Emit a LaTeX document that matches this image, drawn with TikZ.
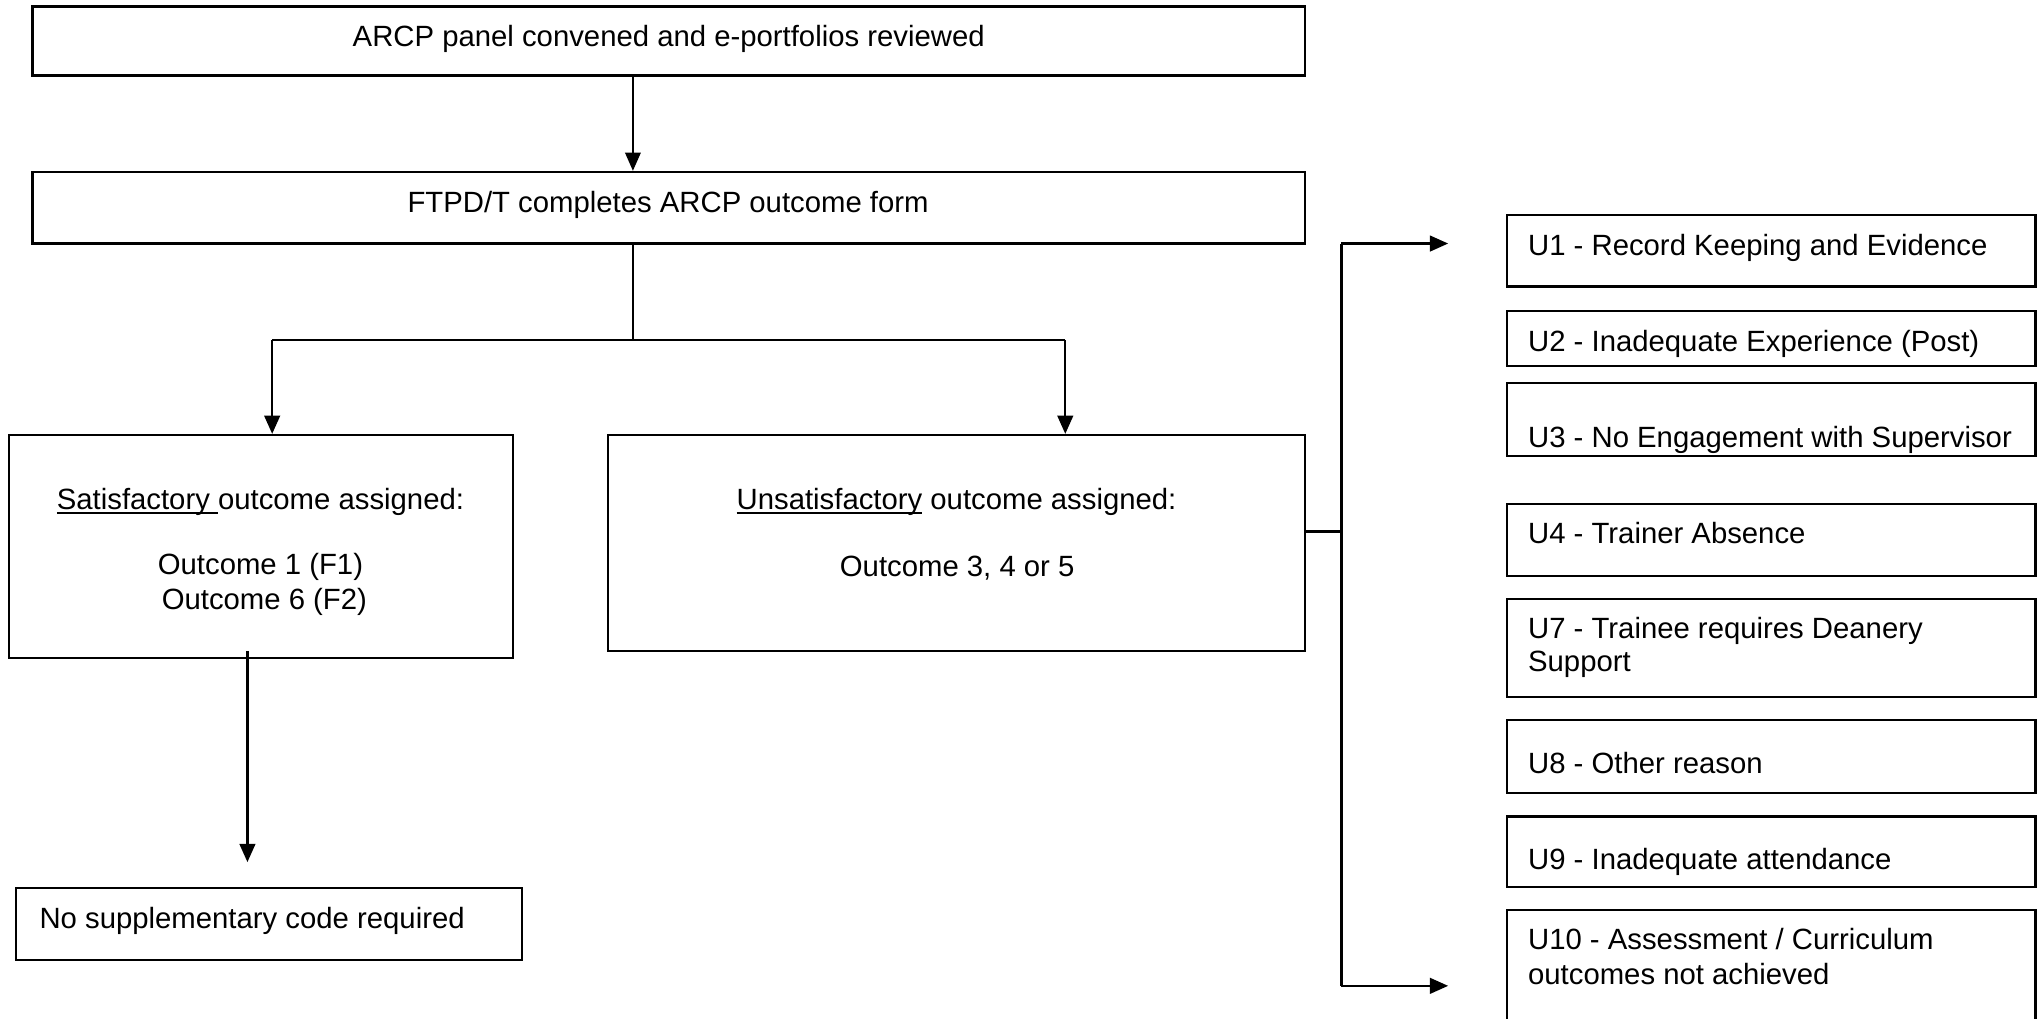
\documentclass[tikz,border=0pt]{standalone}
\usepackage{fontspec}
\setmainfont{Liberation Sans}
\usetikzlibrary{arrows.meta,fit}
\newcommand\myul[1]{\setbox0\hbox{#1}\rlap{\rule[-1.9pt]{\wd0}{0.7pt}}\box0\relax}
\begin{document}
\begin{tikzpicture}[x=0.5pt,y=-0.5pt,
  box/.style={draw, line width=0.85pt, inner sep=0pt, rectangle},
  txt/.style={inner sep=0pt, anchor=base, font=\fontsize{11.25}{13.5}\selectfont},
  ltxt/.style={txt, anchor=base west},
  conn/.style={line width=0.9pt},
  arr/.style={line width=0.9pt, -{Triangle[length=7pt,width=6pt]}}]
\useasboundingbox (0,0) rectangle (1568,782);

% main boxes
\node[box, fit={(25,5) (1002,58)}] (top) {};
\node[txt] (toptxt) at (513.5,36) {ARCP panel convened and e-portfolios reviewed};
\node[box, fit={(25,132) (1002,187)}] (ftpd) {};
\node[txt] (ftpdtxt) at (513,163) {FTPD/T completes ARCP outcome form};

\node[box, fit={(7,334) (394,505)}] (sat) {};
\node[txt] (sat1) at (200,391) {\myul{Satisfactory\ }outcome assigned:};
\node[txt] (sat2) at (200,441) {Outcome 1 (F1)};
\node[txt] (sat3) at (203,468) {Outcome 6 (F2)};

\node[box, fit={(467,334) (1002,500)}] (unsat) {};
\node[txt] (unsat1) at (734.5,391) {\myul{Unsatisfactory} outcome assigned:};
\node[txt] (unsat2) at (735,443) {Outcome 3, 4 or 5};

\node[box, fit={(12,682) (401,737)}] (nosupp) {};
\node[ltxt] (nosupptxt) at (30,713) {No supplementary code required};

% U boxes
\node[box, fit={(1157,165) (1563,220)}] (u1) {};
\node[ltxt] (u1t) at (1173,196) {U1 - Record Keeping and Evidence};
\node[box, fit={(1157,239) (1563,281)}] (u2) {};
\node[ltxt] (u2t) at (1173,270) {U2 - Inadequate Experience (Post)};
\node[box, fit={(1157,294) (1563,350)}] (u3) {};
\node[ltxt] (u3t) at (1173,344) {U3 - No Engagement with Supervisor};
\node[box, fit={(1157,387) (1563,442)}] (u4) {};
\node[ltxt] (u4t) at (1173,417) {U4 - Trainer Absence};
\node[box, fit={(1157,460) (1563,535)}] (u7) {};
\node[ltxt] (u7t) at (1173,490) {U7 - Trainee requires Deanery};
\node[ltxt] (u7u) at (1173,516) {Support};
\node[box, fit={(1157,553) (1563,609)}] (u8) {};
\node[ltxt] (u8t) at (1173,594) {U8 - Other reason};
\node[box, fit={(1157,627) (1563,681)}] (u9) {};
\node[ltxt] (u9t) at (1173,668) {U9 - Inadequate attendance};
\node[box, fit={(1157,699) (1563,800)}] (u10) {};
\node[ltxt] (u10t) at (1173,729) {U10 - Assessment / Curriculum};
\node[ltxt] (u10u) at (1173,756) {outcomes not achieved};

% junction coordinates
\coordinate (cx) at (486,0);
\coordinate (jl) at (209,261);
\coordinate (jr) at (818,261);
\coordinate (sx) at (190,662);
\coordinate (bus) at (1030,408);
\coordinate (bt) at (1030,187);
\coordinate (bb) at (1030,757);
\coordinate (at) at (1112,187);
\coordinate (ab) at (1112,757);

% connectors
\draw[arr, line width=0.6pt] (cx |- top.south) -- (cx |- ftpd.north);
\draw[conn, line width=0.6pt] (cx |- ftpd.south) -- (cx |- jl);
\draw[conn] (jl) -- (jr);
\draw[arr] (jl) -- (jl |- sat.north);
\draw[arr] (jr) -- (jr |- unsat.north);
\draw[arr] ([yshift=3pt]sx |- sat.south) -- (sx);
\draw[conn] (unsat.east |- bus) -- (bus);
\draw[conn] (bt) -- (bb);
\draw[arr] (bt) -- (at);
\draw[arr] (bb) -- (ab);
\end{tikzpicture}
\end{document}
